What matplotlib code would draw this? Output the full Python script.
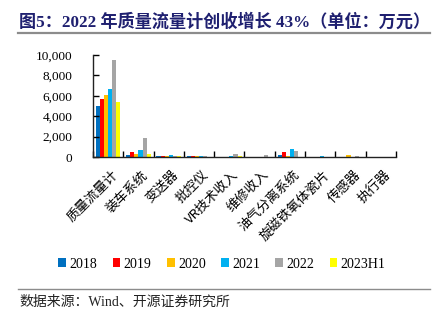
import numpy as np
import matplotlib.pyplot as plt
from matplotlib.lines import Line2D
from matplotlib.ticker import FuncFormatter

plt.rcParams['font.family'] = ['Liberation Serif', 'Noto Sans CJK SC']

# data (万元)
categories = ['质量流量计', '装车系统', '变送器', '批控仪', 'VR技术收入',
              '维修收入', '油气分离系统', '旋磁铁氧体瓷片', '传感器', '执行器']
years = ['2018', '2019', '2020', '2021', '2022', '2023H1']
v2018 = [5000, 230, 80, 60, 30, 20, 200, 0, 0, 0]
v2019 = [5700, 520, 70, 50, 0, 0, 520, 0, 0, 0]
v2020 = [6080, 300, 60, 50, 0, 0, 100, 0, 230, 0]
v2021 = [6640, 720, 220, 90, 60, 0, 810, 50, 0, 0]
v2022 = [9480, 1860, 140, 70, 270, 200, 620, 0, 50, 0]
v2023 = [5420, 330, 50, 40, 80, 0, 0, 0, 0, 30]
series = [v2018, v2019, v2020, v2021, v2022, v2023]
colors = ['#0070C0', '#FF0000', '#FFC000', '#00B0F0', '#A5A5A5', '#FFFF00']

W, H = 435, 322
fig = plt.figure(figsize=(W / 100, H / 100), dpi=100)
ax = fig.add_axes([93 / W, 1 - 157 / H, (396 - 93) / W, (157 - 55) / H])

x = np.arange(len(categories))
bw = 0.135
for i, (vals, c) in enumerate(zip(series, colors)):
    ax.bar(x + (i - 2.5) * bw, vals, width=bw, color=c, label=years[i])

ax.set_xlim(-0.5, len(categories) - 0.5)
ax.set_ylim(0, 10000)
ax.set_yticks(range(0, 10001, 2000))
ax.yaxis.set_major_formatter(FuncFormatter(lambda v, p: f'{int(v):,}'))
ax.set_xticks(np.arange(len(categories) + 1) - 0.5)
ax.set_xticklabels([])
ax.set_xticks(x + 0.1, minor=True)
ax.set_xticklabels(categories, minor=True, rotation=45, ha='right',
                   rotation_mode='anchor', fontsize=9.5,
                   family=['Noto Sans CJK SC'])
ax.tick_params(axis='x', which='minor', length=0, pad=8)
ax.tick_params(axis='x', which='major', direction='in', length=4, width=1)
ax.tick_params(axis='y', direction='in', length=4, width=1, pad=15,
               labelsize=9.5)
for s in ['top', 'right']:
    ax.spines[s].set_visible(False)
for s in ['left', 'bottom']:
    ax.spines[s].set_linewidth(1)
    ax.spines[s].set_color('#222222')

# title
fig.text(19 / W, 1 - 22 / H, '图5：2022 年质量流量计创收增长 43%（单位：万元）',
         fontsize=12.3, fontweight='bold', color='#1F2070', va='center',
         family=['Liberation Serif', 'Noto Sans CJK SC'])
fig.add_artist(Line2D([18 / W, 430 / W], [1 - 33 / H, 1 - 33 / H],
                      color='#8C8C8C', lw=1.6))

# legend
handles, labels = ax.get_legend_handles_labels()
fig.legend(handles, labels, loc='center', bbox_to_anchor=(222 / W, 1 - 264 / H),
           ncol=6, frameon=False, fontsize=10, handlelength=0.55,
           handleheight=0.55, handletextpad=0.25, columnspacing=1.1)

# source
fig.add_artist(Line2D([18 / W, 430 / W], [1 - 289 / H, 1 - 289 / H],
                      color='#8C8C8C', lw=1))
fig.text(19 / W, 1 - 302 / H, '数据来源：Wind、开源证券研究所', fontsize=10,
         va='center', color='#222222',
         family=['Liberation Serif', 'Noto Sans CJK SC'])

fig.savefig('out.png', dpi=100)
